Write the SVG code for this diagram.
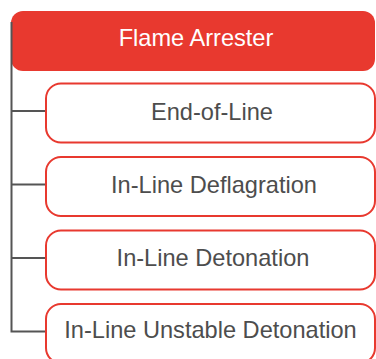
<svg xmlns="http://www.w3.org/2000/svg" width="376" height="359" viewBox="0 0 376 359">
<style>
.child rect{fill:#fff;stroke:#e8392f;stroke-width:2}
.child text{fill:#4d4d4d;font-family:"Liberation Sans",Arial,sans-serif;font-size:23.6px;text-anchor:middle}
.conn{fill:none;stroke:#555;stroke-width:2}
</style>
<rect width="376" height="359" fill="#fff"/>
<g id="root">
<rect x="11" y="11" width="364" height="60" rx="12" fill="#e8392f"/>
<text x="196" y="46" fill="#fff" font-family="'Liberation Sans',Arial,sans-serif" font-size="23.6" text-anchor="middle">Flame Arrester</text>
</g>
<g id="connectors">
<path class="conn" d="M11.5 22V331.5H46M11.5 111H46M11.5 184.5H46M11.5 258H46"/>
</g>
<g id="n1" class="child"><rect x="46" y="83.5" width="329" height="59" rx="15"/><text x="212" y="120">End-of-Line</text></g>
<g id="n2" class="child"><rect x="46" y="157" width="329" height="59" rx="15"/><text x="214" y="193">In-Line Deflagration</text></g>
<g id="n3" class="child"><rect x="46" y="230.5" width="329" height="59" rx="15"/><text x="213" y="265.5">In-Line Detonation</text></g>
<g id="n4" class="child"><rect x="46" y="304" width="329" height="59" rx="15"/><text x="210.5" y="338">In-Line Unstable Detonation</text></g>
</svg>
